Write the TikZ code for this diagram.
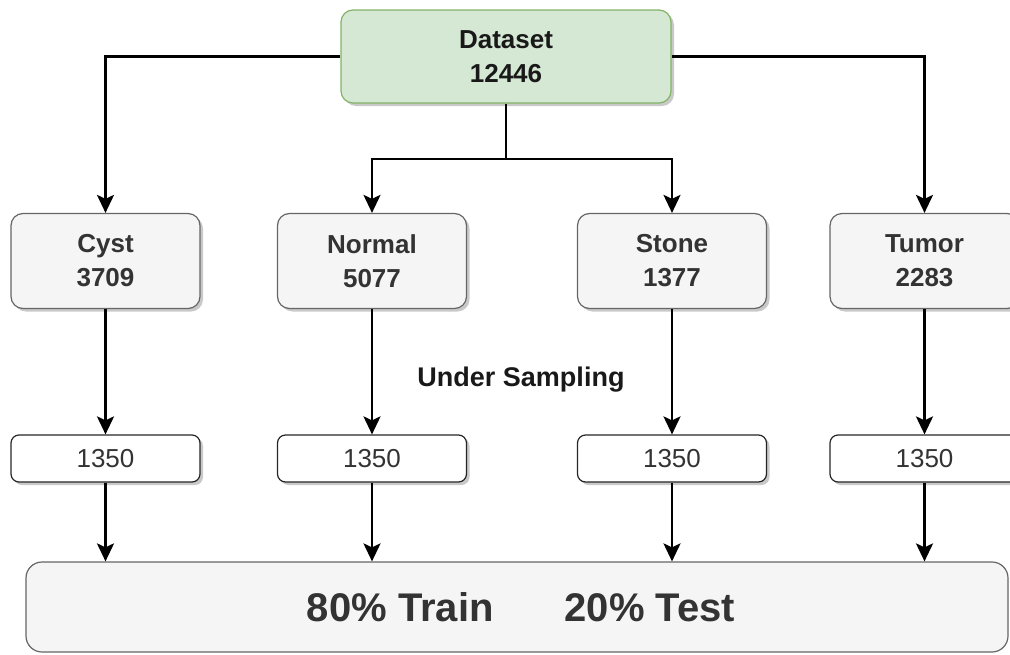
\documentclass[tikz,border=0pt]{standalone}
\usepackage{fontspec}
\setmainfont{Liberation Sans}
\usetikzlibrary{arrows.meta,shadows}
\definecolor{boxfill}{HTML}{F5F5F5}
\definecolor{boxline}{HTML}{666666}
\definecolor{txt}{HTML}{333333}
\definecolor{greenfill}{HTML}{D5E8D4}
\definecolor{greenline}{HTML}{82B366}
\tikzset{
  shade/.style={drop shadow={shadow xshift=3pt,shadow yshift=-3pt,opacity=0.3,fill=black!70}},
  classbox/.style={draw=boxline,fill=boxfill,line width=1.2pt,rounded corners=12pt,
    minimum width=189pt,minimum height=95pt,align=center,text=txt,
    font=\fontsize{26}{34}\selectfont\bfseries,shade},
  rootbox/.style={classbox,draw=greenline,fill=greenfill,text=black!90,
    minimum width=330pt,minimum height=93pt},
  countbox/.style={draw=black!85,fill=white,line width=1.2pt,rounded corners=8pt,
    minimum width=189pt,minimum height=47pt,text=txt,
    font=\fontsize{26}{30}\selectfont,shade},
  splitbox/.style={draw=boxline,fill=boxfill,line width=1.2pt,rounded corners=16pt,
    minimum width=982pt,minimum height=90pt,text=txt,
    font=\fontsize{40}{46}\selectfont\bfseries},
  arr/.style={line width=2.6pt,-{Stealth[length=18pt,width=17pt,inset=4pt]}},
  seg/.style={line width=2.6pt}
}
\begin{document}
\begin{tikzpicture}[x=1pt,y=-1pt]
\useasboundingbox (0,0) rectangle (1010,654);
\clip (0,0) rectangle (1010,654);

% root
\node[rootbox] (ds) at (506,56.5) {Dataset\\12446};

% classes
\node[classbox] (cyst)   at (105.5,261) {Cyst\\3709};
\node[classbox] (normal) at (372,261)   {Normal\\5077};
\node[classbox] (stone)  at (672,261)   {Stone\\1377};
\node[classbox] (tumor)  at (924.5,261) {Tumor\\2283};

% sampled counts
\node[countbox] (c1) at (105.5,458.5) {1350};
\node[countbox] (c2) at (372,458.5)   {1350};
\node[countbox] (c3) at (672,458.5)   {1350};
\node[countbox] (c4) at (924.5,458.5) {1350};

% split
\node[splitbox] (split) at (517,607)
  {\hspace{8pt}80\% Train\hspace{71pt}20\% Test};

\node[font=\fontsize{27}{30}\selectfont\bfseries,text=black!90] (us) at (521,380) {Under Sampling};

% connectors from the root
\draw[arr] (ds.west) -| (cyst.north);
\draw[arr] (ds.east) -| (tumor.north);
\coordinate (fork) at (506,159);
\draw[seg] (ds.south) -- (fork);
\draw[arr] (fork) -| (normal.north);
\draw[arr] (fork) -| (stone.north);

% under sampling
\foreach \a/\b in {cyst/c1,normal/c2,stone/c3,tumor/c4}
  \draw[arr] (\a.south) -- (\b.north);

% into the split
\foreach \b in {c1,c2,c3,c4}
  \draw[arr] (\b.south) -- (\b.south |- split.north);
\end{tikzpicture}
\end{document}
